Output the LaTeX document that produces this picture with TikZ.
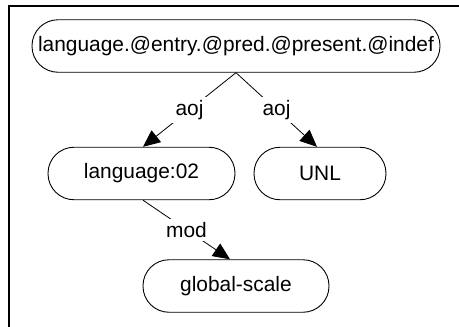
\documentclass[tikz,border=0pt]{standalone}
\usepackage{fontspec}
\setmainfont{Liberation Sans}
\usetikzlibrary{arrows.meta}
\begin{document}
\begin{tikzpicture}[x=1pt,y=1pt,
  every node/.style={font=\fontsize{20.9}{25}\selectfont},
  term/.style={draw, line width=0.9pt, rounded corners=26pt, minimum height=52.5pt, inner sep=0pt},
  rel/.style={line width=0.8pt, -{Triangle[length=17pt,width=15pt]}},
  lbl/.style={fill=white, inner sep=3.5pt, midway}]
  \useasboundingbox (0,0) rectangle (459,-327);
  % frame edges
  \draw[line width=2pt] (9,-327) -- (9,-6) -- (459,-6);
  % concept nodes
  \node[term, minimum width=408pt] (top) at (236,-46) {language.@entry.@pred.@present.@indef};
  \node[term, minimum width=187pt] (lang) at (141.5,-173.5) {language:02};
  \node[term, minimum width=132pt] (unl) at (320,-173.5) {UNL};
  \node[term, minimum width=186pt] (glob) at (236,-286) {global-scale};
  % relations
  \draw[rel] (top.south) -- node[lbl]{aoj} ([xshift=1.5pt]lang.north);
  \draw[rel] (top.south) -- node[lbl]{aoj} ([xshift=-3pt]unl.north);
  \draw[rel] ([xshift=1.5pt]lang.south) -- node[lbl]{mod} ([xshift=-6pt]glob.north);
\end{tikzpicture}
\end{document}
